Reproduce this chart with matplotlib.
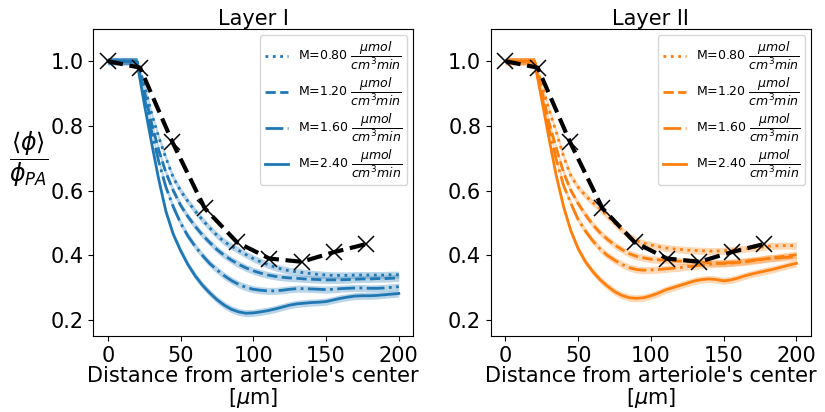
import numpy as np
import matplotlib.pyplot as plt

# distance from arteriole's center [um]
x = [0, 10, 20, 25, 30, 35, 40, 45, 50, 55, 60, 65, 70, 75, 80, 85, 90, 95,
     100, 105, 110, 115, 120, 125, 130, 135, 140, 145, 150, 155, 160, 165,
     170, 175, 180, 185, 190, 195, 200]

# Layer I
l1_m080 = [1.0, 1.0, 1.0, 0.93, 0.84, 0.765, 0.70, 0.64, 0.60, 0.567, 0.537, 0.51,
           0.485, 0.462, 0.442, 0.428, 0.415, 0.402, 0.39, 0.38, 0.371, 0.363,
           0.357, 0.352, 0.349, 0.346, 0.343, 0.341, 0.339, 0.338, 0.338, 0.338,
           0.339, 0.339, 0.339, 0.339, 0.339, 0.34, 0.34]
l1_m120 = [1.0, 1.0, 1.0, 0.91, 0.81, 0.725, 0.655, 0.60, 0.555, 0.52, 0.49, 0.463,
           0.44, 0.418, 0.40, 0.385, 0.372, 0.361, 0.352, 0.345, 0.339, 0.335,
           0.332, 0.33, 0.329, 0.327, 0.326, 0.325, 0.324, 0.324, 0.324, 0.325,
           0.326, 0.327, 0.327, 0.328, 0.328, 0.329, 0.33]
l1_m160 = [1.0, 1.0, 1.0, 0.89, 0.785, 0.69, 0.61, 0.55, 0.50, 0.46, 0.428, 0.40,
           0.375, 0.355, 0.337, 0.322, 0.31, 0.301, 0.295, 0.292, 0.29, 0.29,
           0.292, 0.295, 0.297, 0.297, 0.296, 0.295, 0.294, 0.295, 0.297, 0.298,
           0.299, 0.299, 0.298, 0.298, 0.299, 0.301, 0.303]
l1_m240 = [1.0, 1.0, 1.0, 0.87, 0.75, 0.635, 0.535, 0.465, 0.415, 0.372, 0.337, 0.308,
           0.284, 0.263, 0.246, 0.233, 0.225, 0.221, 0.222, 0.225, 0.229, 0.234,
           0.24, 0.246, 0.25, 0.252, 0.254, 0.255, 0.257, 0.262, 0.267, 0.271,
           0.274, 0.275, 0.275, 0.276, 0.278, 0.28, 0.282]

# Layer II
l2_m080 = [1.0, 1.0, 1.0, 0.93, 0.85, 0.78, 0.705, 0.645, 0.61, 0.585, 0.563, 0.545,
           0.522, 0.50, 0.478, 0.458, 0.445, 0.437, 0.432, 0.427, 0.423, 0.42,
           0.418, 0.416, 0.415, 0.414, 0.413, 0.413, 0.414, 0.416, 0.418, 0.42,
           0.423, 0.425, 0.428, 0.429, 0.43, 0.43, 0.43]
l2_m120 = [1.0, 1.0, 1.0, 0.91, 0.81, 0.73, 0.655, 0.60, 0.56, 0.525, 0.495, 0.47,
           0.45, 0.432, 0.418, 0.405, 0.397, 0.392, 0.388, 0.386, 0.385, 0.383,
           0.382, 0.381, 0.38, 0.379, 0.377, 0.376, 0.375, 0.376, 0.378, 0.38,
           0.383, 0.386, 0.39, 0.393, 0.396, 0.399, 0.402]
l2_m160 = [1.0, 1.0, 1.0, 0.89, 0.79, 0.695, 0.615, 0.56, 0.51, 0.475, 0.445, 0.42,
           0.40, 0.385, 0.372, 0.362, 0.356, 0.354, 0.355, 0.356, 0.358, 0.36,
           0.362, 0.365, 0.367, 0.37, 0.372, 0.374, 0.376, 0.378, 0.38, 0.382,
           0.385, 0.387, 0.39, 0.391, 0.393, 0.394, 0.396]
l2_m240 = [1.0, 1.0, 1.0, 0.88, 0.76, 0.645, 0.55, 0.475, 0.42, 0.38, 0.35, 0.325,
           0.305, 0.288, 0.276, 0.269, 0.267, 0.269, 0.275, 0.283, 0.293, 0.30,
           0.307, 0.314, 0.321, 0.325, 0.327, 0.325, 0.321, 0.324, 0.33, 0.337,
           0.343, 0.348, 0.353, 0.358, 0.364, 0.37, 0.375]

# spread of the simulations (half width of band)
spread = 0.011

# measurements (black crosses)
x_exp = [0, 22.2, 44.4, 66.7, 88.9, 111.1, 133.3, 155.6, 177.8]
y_exp = [1.0, 0.98, 0.75, 0.545, 0.44, 0.39, 0.38, 0.41, 0.435]

M_values = [0.80, 1.20, 1.60, 2.40]
styles = [':', '--', '-.', '-']
titles = ['Layer I', 'Layer II']
colors = ['tab:blue', 'tab:orange']
layers = [[l1_m080, l1_m120, l1_m160, l1_m240],
          [l2_m080, l2_m120, l2_m160, l2_m240]]


fig = plt.figure(figsize=(8.25, 4.12), dpi=100)
ax1 = fig.add_axes([0.113, 0.184, 0.388, 0.746])
ax2 = fig.add_axes([0.595, 0.184, 0.388, 0.746])

xx = np.array(x)
for ax, curves, col, title in zip([ax1, ax2], layers, colors, titles):
    for y, ls, M in zip(curves, styles, M_values):
        y = np.array(y)
        ax.fill_between(xx, y - spread, y + spread, color=col, alpha=0.3, lw=0)
        ax.plot(xx, y, ls, color=col, lw=2,
                label='M=%.2f ' % M + r'$\dfrac{\mu mol}{cm^3 min}$')
    ax.plot(x_exp, y_exp, 'k--', lw=3, marker='x', ms=11, mew=1.1)

    ax.set_xlim(-10, 210)
    ax.set_ylim(0.15, 1.1)
    ax.set_xticks([0, 50, 100, 150, 200])
    ax.set_yticks([0.2, 0.4, 0.6, 0.8, 1.0])
    ax.tick_params(labelsize=15)
    ax.set_title(title, fontsize=15, pad=3)
    ax.set_xlabel("Distance from arteriole's center\n" + r"[$\mu$m]", fontsize=15,
                  labelpad=0, linespacing=1.0)
    ax.legend(loc='upper right', fontsize=9, labelspacing=0.3,
              borderaxespad=0.5, handlelength=1.8)

ax1.set_ylabel(r'$\dfrac{\langle \phi \rangle}{\phi_{PA}}$', fontsize=17,
               rotation=0, va='center', ha='center')
ax1.yaxis.set_label_coords(-0.2, 0.575)

fig.savefig('out.png')
